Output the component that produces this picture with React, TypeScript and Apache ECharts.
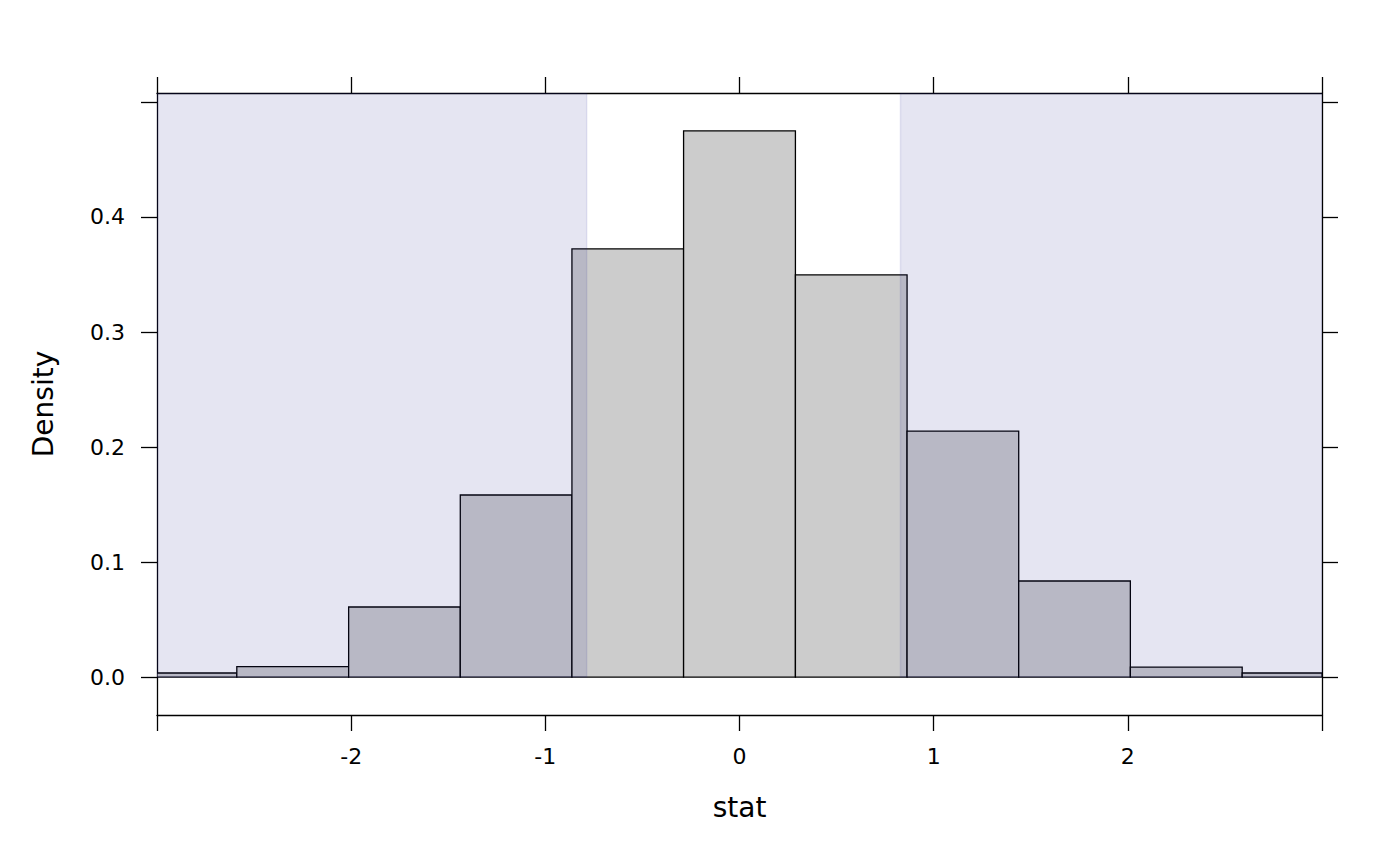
import React, { useEffect, useRef } from "react";
import * as echarts from "echarts";

// Histogram bin breaks (stat) and densities
const binBreaks = [-3.165, -2.589, -2.013, -1.438, -0.863, -0.288, 0.288, 0.863, 1.438, 2.013, 2.589, 3.165];
const densities = [0.0035, 0.009, 0.0609, 0.1583, 0.3722, 0.4748, 0.3496, 0.2139, 0.0835, 0.0087, 0.0035];

// Shaded (rejection) regions along stat
const shadeRegions = [
  [-3.2, -0.787],
  [0.829, 3.2],
];

const xTicks = [-3, -2, -1, 0, 1, 2, 3];
const xLabels = [-2, -1, 0, 1, 2];
const yTicks = [0, 0.1, 0.2, 0.3, 0.4, 0.5];
const yLabels = [0, 0.1, 0.2, 0.3, 0.4];

const X_MIN = -3;
const X_MAX = 3;
const Y_MIN = -0.033;
const Y_MAX = 0.5078;

export default function App() {
  const ref = useRef<HTMLDivElement>(null);

  useEffect(() => {
    document.body.style.margin = "0";
    const chart = echarts.init(ref.current!, null, { renderer: "svg" });
    const font = "DejaVu Sans";

    const histData = densities.map((d, i) => [binBreaks[i], binBreaks[i + 1], d]);

    const axisLine = { show: true, onZero: false, lineStyle: { color: "#000", width: 1.3 } };
    const tickStyle = { color: "#000", width: 1.3 };

    chart.setOption({
      animation: false,
      backgroundColor: "#fff",
      grid: { left: 157, right: 78, top: 93, bottom: 151, containLabel: false },
      xAxis: [
        {
          type: "value",
          min: X_MIN,
          max: X_MAX,
          position: "bottom",
          name: "stat",
          nameLocation: "middle",
          nameGap: 78,
          nameTextStyle: { fontFamily: font, fontSize: 28, color: "#000" },
          axisLine,
          splitLine: { show: false },
          axisTick: { show: true, inside: false, length: 16, lineStyle: tickStyle, customValues: xTicks },
          axisLabel: {
            show: true,
            margin: 30,
            fontFamily: font,
            fontSize: 22,
            color: "#000",
            customValues: xLabels,
            formatter: (v: number) => String(v),
          },
        },
        {
          type: "value",
          min: X_MIN,
          max: X_MAX,
          position: "top",
          axisLine,
          splitLine: { show: false },
          axisTick: { show: true, inside: false, length: 16, lineStyle: tickStyle, customValues: xTicks },
          axisLabel: { show: false },
        },
      ],
      yAxis: [
        {
          type: "value",
          min: Y_MIN,
          max: Y_MAX,
          position: "left",
          name: "Density",
          nameLocation: "middle",
          nameGap: 100,
          nameTextStyle: { fontFamily: font, fontSize: 28, color: "#000" },
          axisLine,
          splitLine: { show: false },
          axisTick: { show: true, inside: false, length: 16, lineStyle: tickStyle, customValues: yTicks },
          axisLabel: {
            show: true,
            margin: 32,
            fontFamily: font,
            fontSize: 22,
            color: "#000",
            customValues: yLabels,
            formatter: (v: number) => v.toFixed(1),
          },
        },
        {
          type: "value",
          min: Y_MIN,
          max: Y_MAX,
          position: "right",
          axisLine,
          splitLine: { show: false },
          axisTick: { show: true, inside: false, length: 16, lineStyle: tickStyle, customValues: yTicks },
          axisLabel: { show: false },
        },
      ],
      series: [
        {
          type: "custom",
          name: "hist",
          xAxisIndex: 0,
          yAxisIndex: 0,
          clip: true,
          z: 2,
          data: histData,
          encode: { x: [0, 1], y: 2 },
          renderItem: (params: any, api: any) => {
            const x0 = api.value(0);
            const x1 = api.value(1);
            const h = api.value(2);
            const p0 = api.coord([x0, h]);
            const p1 = api.coord([x1, 0]);
            const rect = {
              x: p0[0],
              y: p0[1],
              width: p1[0] - p0[0],
              height: p1[1] - p0[1],
            };
            const clipped = echarts.graphic.clipRectByRect(rect, {
              x: params.coordSys.x,
              y: params.coordSys.y,
              width: params.coordSys.width,
              height: params.coordSys.height,
            });
            if (!clipped) return null;
            return {
              type: "rect",
              shape: clipped,
              style: { fill: "#CCCCCC", stroke: "#000", lineWidth: 1.3 },
            };
          },
        },
        {
          type: "custom",
          name: "shade",
          xAxisIndex: 0,
          yAxisIndex: 0,
          clip: true,
          z: 3,
          silent: true,
          data: shadeRegions,
          encode: { x: [0, 1] },
          renderItem: (params: any, api: any) => {
            const x0 = api.value(0);
            const x1 = api.value(1);
            const p0 = api.coord([x0, Y_MAX]);
            const p1 = api.coord([x1, 0]);
            const rect = {
              x: p0[0],
              y: p0[1],
              width: p1[0] - p0[0],
              height: p1[1] - p0[1],
            };
            const clipped = echarts.graphic.clipRectByRect(rect, {
              x: params.coordSys.x,
              y: params.coordSys.y,
              width: params.coordSys.width,
              height: params.coordSys.height,
            });
            if (!clipped) return null;
            return {
              type: "rect",
              shape: clipped,
              style: { fill: "rgba(34,34,144,0.118)", stroke: "rgba(34,34,144,0.1)", lineWidth: 1.5 },
            };
          },
        },
      ],
    });

    return () => chart.dispose();
  }, []);

  return (
    <div
      ref={ref}
      style={{ position: "absolute", left: 0, top: 0, width: 1400, height: 866 }}
    />
  );
}
